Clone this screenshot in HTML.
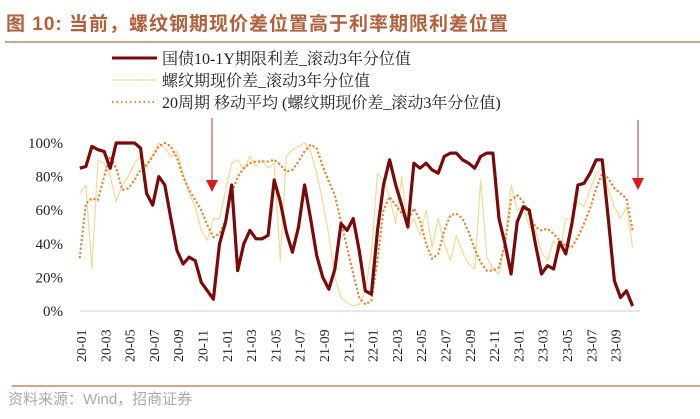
<!DOCTYPE html>
<html><head><meta charset="utf-8"><style>
html,body{margin:0;padding:0;background:#fff;width:700px;height:419px;overflow:hidden}
svg{display:block}
.serif{font-family:"Liberation Serif","Noto Serif CJK SC",serif}
.sans{font-family:"Liberation Sans","Noto Sans CJK SC",sans-serif}
</style></head><body>
<svg id="chart" width="700" height="419" viewBox="0 0 700 419" xmlns="http://www.w3.org/2000/svg">
<text x="6" y="30" class="sans" font-size="19" font-weight="bold" letter-spacing="1" fill="#b0603c">图 10:  当前，螺纹钢期现价差位置高于利率期限利差位置</text>
<line x1="5" y1="42" x2="700" y2="42" stroke="#c98563" stroke-width="1.5"/>
<g>
<g><line x1="112" y1="58" x2="157" y2="58" stroke="#7a0a0a" stroke-width="3"/><text x="162" y="64" class="serif" font-size="16" fill="#222">国债10-1Y期限利差_滚动3年分位值</text></g>
<g><line x1="112" y1="80" x2="157" y2="80" stroke="#f3dca0" stroke-width="1.2"/><text x="162" y="86" class="serif" font-size="16" fill="#222">螺纹期现价差_滚动3年分位值</text></g>
<g><line x1="112" y1="102" x2="157" y2="102" stroke="#e08a3c" stroke-width="2.2" stroke-dasharray="1.5 3"/><text x="162" y="108" class="serif" font-size="16" fill="#222">20周期 移动平均 (螺纹期现价差_滚动3年分位值)</text></g>
</g>
<g id="yaxis"></g>
<g id="xaxis"></g>
<g id="series"></g>
<g><line x1="212" y1="118" x2="212" y2="182" stroke="#b83030" stroke-width="1"/><polygon points="206,180 218,180 212,192" fill="#d41e1e"/></g>
<g><line x1="638" y1="120" x2="638" y2="180" stroke="#b83030" stroke-width="1"/><polygon points="632,178 644,178 638,190" fill="#d41e1e"/></g>
<line x1="12" y1="386" x2="700" y2="386" stroke="#c98563" stroke-width="1.5"/>
<text x="8" y="404" class="sans" font-size="15" fill="#a8a8a8">资料来源：Wind，招商证券</text>
</svg>
<script>
const yTicks=[0,20,40,60,80,100];
const xTickLabels=["20-01","20-03","20-05","20-07","20-09","20-11","21-01","21-03","21-05","21-07","21-09","21-11","22-01","22-03","22-05","22-07","22-09","22-11","23-01","23-03","23-05","23-07","23-09"];
const bondSpread=[85,86,98,96,95,85,100,100,100,100,97,70,63,80,75,55,36,28,32,30,17,12,7,40,53,75,24,40,48,43,43,45,78,65,47,35,50,75,55,33,20,13,25,52,48,55,36,12,10,48,75,90,75,63,50,88,85,88,84,82,92,94,94,90,88,85,92,94,94,55,40,22,53,62,60,40,22,27,25,41,34,52,75,76,82,90,90,55,18,8,12,3];
const rebarBasis=[70,75,25,90,88,80,65,75,80,88,92,85,93,100,97,92,95,82,70,62,48,42,55,55,72,88,90,84,92,86,90,85,88,30,92,96,98,100,95,82,65,45,20,8,5,3,4,12,35,82,78,68,52,80,48,55,45,60,38,55,40,30,45,35,28,25,78,32,25,22,40,75,60,62,50,48,35,30,42,35,55,55,65,62,72,82,85,72,62,55,62,38];
const movingAvg=[32,64,67,66,80,92,85,72,73,78,84,87,92,98,100,98,91,80,72,66,60,51,44,46,54,70,80,85,88,89,89,89,90,87,83,84,89,95,99,97,86,77,69,53,38,22,8,4,6,30,60,68,63,58,54,61,54,40,31,34,48,57,58,55,47,37,29,24,24,26,40,66,69,65,57,50,48,49,46,42,39,38,44,52,61,73,82,79,73,70,67,48];
const NS="http://www.w3.org/2000/svg";
const x0=81, monthPx=12.15, yTop=143, yBot=311;
function xMonth(m){return x0+m*monthPx;}
function xIdx(i){return xMonth(i*0.5-0.1);}
function yVal(v){return yBot-(v/100)*(yBot-yTop);}
const yG=document.getElementById('yaxis'), xG=document.getElementById('xaxis'), sG=document.getElementById('series');
yTicks.forEach(t=>{
  const tx=document.createElementNS(NS,'text');
  tx.setAttribute('x',63);tx.setAttribute('y',yVal(t)+5);
  tx.setAttribute('text-anchor','end');tx.setAttribute('class','serif');
  tx.setAttribute('font-size','15');tx.setAttribute('fill','#222');
  tx.textContent=t+'%';
  
  
  yG.appendChild(tx);
});
const base=document.createElementNS(NS,'line');
base.setAttribute('x1',80);base.setAttribute('x2',640);base.setAttribute('y1',yBot);base.setAttribute('y2',yBot);
base.setAttribute('stroke','#d9d9d9');base.setAttribute('stroke-width','1.2');


xG.appendChild(base);
xTickLabels.forEach((l,i)=>{
  const x=xMonth(i*2), tx=document.createElementNS(NS,'text');
  tx.setAttribute('transform','translate('+(x+5)+',362) rotate(-90)');
  tx.setAttribute('class','serif');tx.setAttribute('font-size','14');tx.setAttribute('fill','#222');
  tx.textContent=l;
  
  
  xG.appendChild(tx);
});
function addLine(arr,stroke,w,dash,name){
  const p=document.createElementNS(NS,'polyline');
  p.setAttribute('points',arr.map((v,i)=>xIdx(i).toFixed(1)+','+yVal(v).toFixed(1)).join(' '));
  p.setAttribute('fill','none');p.setAttribute('stroke',stroke);p.setAttribute('stroke-width',w);
  p.setAttribute('stroke-linejoin','round');
  if(dash){p.setAttribute('stroke-dasharray',dash);p.setAttribute('stroke-linecap','round');}
  
  
  sG.appendChild(p);
}
addLine(rebarBasis,'#f3d898',1.2,null,'rebar-basis-line');
addLine(movingAvg,'#e08a3c',2.4,'0.1 4.2','moving-average-line');
addLine(bondSpread,'#7a0a0a',3.2,null,'bond-spread-line');
</script>
</body></html>
